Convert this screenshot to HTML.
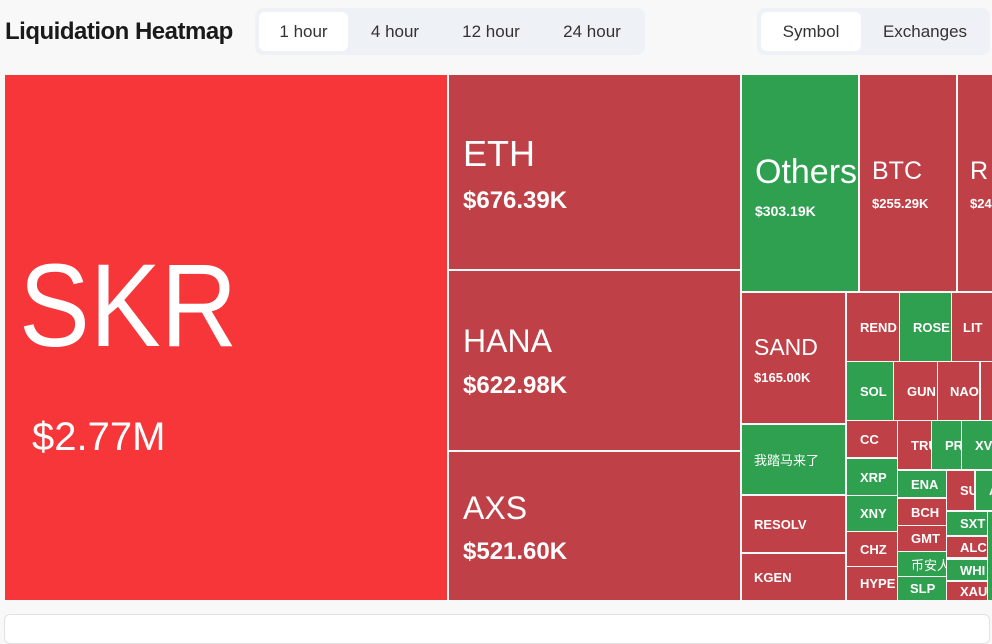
<!DOCTYPE html>
<html><head><meta charset="utf-8"><style>
*{margin:0;padding:0;box-sizing:border-box}
body{width:992px;height:626px;background:#f8f8f8;font-family:"Liberation Sans","Noto Sans CJK SC",sans-serif;position:relative;overflow:hidden}
.t{position:absolute;color:#fff;overflow:hidden;white-space:nowrap}
.r{background:#c04047}.g{background:#2fa050}.b{background:#f63639}
.s{position:absolute;font-size:14px;font-weight:bold;color:#fff}
.c{display:flex;align-items:center;padding-left:7px;font-size:13px;font-weight:bold}
.grp{position:absolute;background:#eef1f5;border-radius:8px;top:8px;height:47px}
.btn{position:absolute;top:4px;height:39px;line-height:39px;font-size:17px;color:#333;text-align:center}
.act{background:#fff;border-radius:6px}
</style></head><body>
<div style="position:absolute;left:5px;top:18px;font-size:24px;font-weight:bold;color:#1a1a1a;letter-spacing:-0.5px">Liquidation Heatmap</div>
<div class="grp" style="left:255px;width:390px">
<div class="btn act" style="left:4px;width:89px">1 hour</div>
<div class="btn" style="left:95px;width:90px">4 hour</div>
<div class="btn" style="left:188px;width:96px">12 hour</div>
<div class="btn" style="left:288px;width:98px">24 hour</div>
</div>
<div class="grp" style="left:757px;width:233px">
<div class="btn act" style="left:4px;width:100px">Symbol</div>
<div class="btn" style="left:108px;width:120px">Exchanges</div>
</div>

<div class="t b" style="left:5px;top:75px;width:442px;height:525px">
<div style="position:absolute;left:14px;top:172px;font-size:118px;line-height:1;transform:scaleX(0.9);transform-origin:left">SKR</div>
<div style="position:absolute;left:27px;top:340px;font-size:40px">$2.77M</div></div>
<div class="t r" style="left:449px;top:75px;width:291px;height:194px">
<div style="position:absolute;left:14px;top:58px;font-size:36px">ETH</div>
<div style="position:absolute;left:14px;top:112px;font-size:24px;font-weight:bold">$676.39K</div></div>
<div class="t r" style="left:449px;top:271px;width:291px;height:179px">
<div style="position:absolute;left:14px;top:52px;font-size:32px">HANA</div>
<div style="position:absolute;left:14px;top:101px;font-size:24px;font-weight:bold">$622.98K</div></div>
<div class="t r" style="left:449px;top:452px;width:291px;height:148px">
<div style="position:absolute;left:14px;top:38px;font-size:32px">AXS</div>
<div style="position:absolute;left:14px;top:86px;font-size:24px;font-weight:bold">$521.60K</div></div>
<div class="t g" style="left:742px;top:75px;width:116px;height:216px">
<div style="position:absolute;left:13px;top:78px;font-size:34px">Others</div>
<div class="s" style="left:13px;top:128px">$303.19K</div></div>
<div class="t r" style="left:860px;top:75px;width:96px;height:216px">
<div style="position:absolute;left:12px;top:82px;font-size:25px">BTC</div>
<div class="s" style="left:12px;top:121px;font-size:13px">$255.29K</div></div>
<div class="t r" style="left:958px;top:75px;width:34px;height:216px">
<div style="position:absolute;left:12px;top:82px;font-size:25px">R</div>
<div class="s" style="left:12px;top:121px;font-size:13px">$24</div></div>

<div class="t r" style="left:742px;top:293px;width:103px;height:130px">
<div style="position:absolute;left:12px;top:41px;font-size:23px">SAND</div>
<div class="s" style="left:12px;top:77px;font-size:13px">$165.00K</div></div>
<div class="t g c" style="left:742px;top:425px;width:103px;height:69px;font-weight:normal;padding-left:12px">我踏马来了</div>
<div class="t r c" style="left:742px;top:496px;width:103px;height:56px;padding-left:12px">RESOLV</div>
<div class="t r c" style="left:742px;top:554px;width:103px;height:46px;padding-left:12px">KGEN</div>

<div class="t r c" style="left:847px;top:293px;width:52px;height:68px;padding-left:13px">REND</div>
<div class="t g c" style="left:900px;top:293px;width:51px;height:68px;padding-left:13px">ROSE</div>
<div class="t r c" style="left:952px;top:293px;width:40px;height:68px;padding-left:11px">LIT</div>
<div class="t g c" style="left:847px;top:362px;width:46px;height:58px;padding-left:13px">SOL</div>
<div class="t r c" style="left:894px;top:362px;width:43px;height:58px;padding-left:13px">GUN</div>
<div class="t r c" style="left:938px;top:362px;width:41px;height:58px;padding-left:12px">NAO</div>
<div class="t r" style="left:981px;top:362px;width:11px;height:58px"></div>

<div class="t r c" style="left:847px;top:421px;width:50px;height:36px;padding-left:13px">CC</div>
<div class="t g c" style="left:847px;top:459px;width:50px;height:36px;padding-left:13px">XRP</div>
<div class="t g c" style="left:847px;top:496px;width:50px;height:35px;padding-left:13px">XNY</div>
<div class="t r c" style="left:847px;top:532px;width:50px;height:34px;padding-left:13px">CHZ</div>
<div class="t r c" style="left:847px;top:567px;width:50px;height:33px;padding-left:13px">HYPE</div>

<div class="t r c" style="left:898px;top:421px;width:33px;height:48px;padding-left:13px">TRU</div>
<div class="t g c" style="left:932px;top:421px;width:29px;height:48px;padding-left:13px">PR</div>
<div class="t g c" style="left:962px;top:421px;width:30px;height:48px;padding-left:13px">XV</div>
<div class="t g c" style="left:898px;top:471px;width:48px;height:26px;padding-left:13px">ENA</div>
<div class="t r c" style="left:898px;top:499px;width:48px;height:26px;padding-left:13px">BCH</div>
<div class="t r c" style="left:898px;top:526px;width:48px;height:25px;padding-left:13px">GMT</div>
<div class="t g c" style="left:898px;top:552px;width:48px;height:24px;padding-left:13px;font-weight:normal">币安人生</div>
<div class="t g c" style="left:898px;top:577px;width:48px;height:23px;padding-left:12px">SLP</div>
<div class="t r c" style="left:947px;top:471px;width:27px;height:39px;padding-left:13px">SU</div>
<div class="t g c" style="left:976px;top:471px;width:16px;height:39px;padding-left:13px">A</div>
<div class="t g c" style="left:947px;top:512px;width:40px;height:23px;padding-left:13px">SXT</div>
<div class="t r c" style="left:947px;top:537px;width:40px;height:20px;padding-left:13px">ALC</div>
<div class="t g c" style="left:947px;top:560px;width:40px;height:20px;padding-left:13px">WHI</div>
<div class="t r c" style="left:947px;top:582px;width:40px;height:18px;padding-left:13px">XAU</div>
<div class="t g" style="left:988px;top:512px;width:4px;height:88px"></div>

<div style="position:absolute;left:4px;top:614px;width:986px;height:30px;background:#fff;border:1px solid #e2e2e2;border-radius:6px"></div>
</body></html>
